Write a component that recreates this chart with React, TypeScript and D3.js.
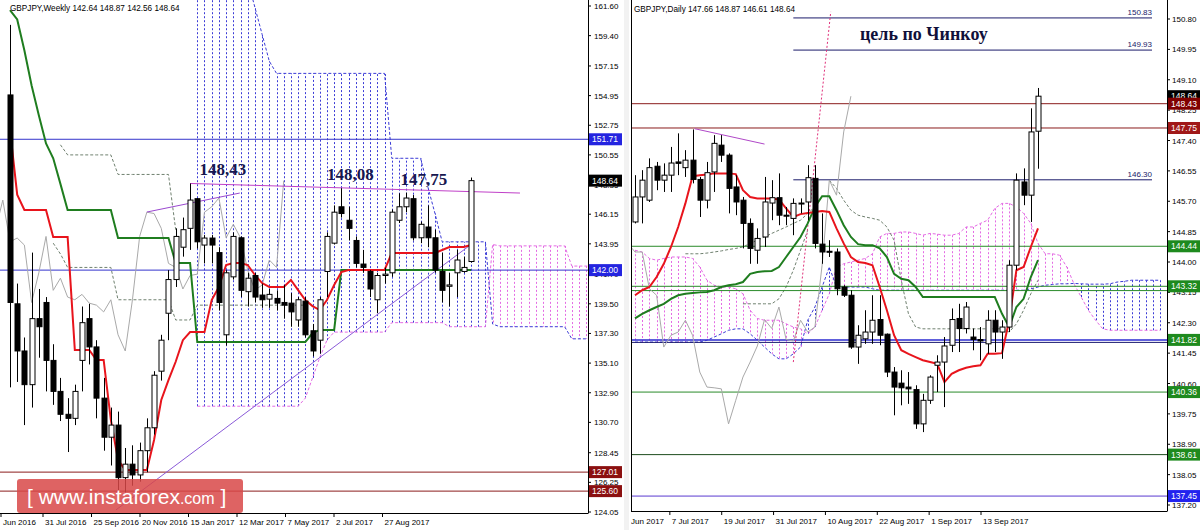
import * as d3 from "d3";
import React from "react";

const FONT = "'Liberation Sans', Arial, sans-serif";
const SERIF = "'Liberation Serif', 'Times New Roman', serif";

// ---------- weekly panel (bar 0 = week of 19 Jun 2016) ----------
const wOpen = [155.0,139.5,136.0,133.5,138.4,139.6,135.3,133.0,131.3,131.0,135.3,138.4,136.3,132.5,129.6,130.5,126.6,127.6,126.8,128.6,130.3,134.5,138.8,141.3,143.7,145.1,147.3,143.86,144.38,143.3,137.2,141.5,144.4,140.4,141.6,140.15,139.85,139.9,139.6,139.55,138.3,139.7,137.5,136.8,141.9,144.0,146.7,145.7,144.2,142.45,141.9,139.8,141.6,141.8,145.7,146.7,147.3,144.4,145.2,144.4,141.9,140.8,141.8,141.9,142.64];
const wHigh = [160.2,141.0,137.0,143.3,140.6,140.0,136.5,134.0,132.5,133.5,139.3,139.5,136.8,134.0,131.8,131.5,128.8,129.0,129.2,131.0,134.5,137.2,142.0,145.1,145.9,148.43,147.35,144.6,144.6,143.7,142.0,144.8,144.5,141.8,141.8,141.0,140.6,140.5,140.9,140.3,140.0,140.0,138.0,140.0,144.8,146.8,148.08,146.7,144.5,143.5,142.0,141.8,142.2,146.5,147.7,147.75,147.57,145.6,146.8,145.0,143.3,141.8,143.5,143.0,148.87];
const wLow = [133.3,133.7,130.5,131.8,135.5,133.0,132.0,130.8,128.5,130.5,133.0,135.0,131.0,128.6,127.5,124.8,125.5,126.0,126.3,127.0,129.8,133.8,136.8,140.75,143.0,143.5,143.6,142.5,142.5,139.0,136.4,141.3,140.0,139.3,139.6,139.2,139.2,139.0,138.4,137.8,137.8,137.0,135.6,135.8,140.0,143.9,145.9,144.2,142.2,141.8,140.0,138.8,141.0,141.5,145.5,146.3,144.2,144.0,143.7,141.8,139.6,139.3,140.0,141.8,142.56];
const wClose = [139.6,136.0,133.5,138.4,137.8,135.3,133.0,131.3,131.0,133.0,138.1,136.3,132.5,129.6,130.5,126.6,127.6,126.8,128.6,130.3,134.2,136.8,141.3,144.5,145.0,147.2,144.1,144.38,143.86,139.6,141.8,144.5,140.5,141.4,140.0,139.8,140.2,139.55,139.4,138.9,139.8,137.2,136.0,139.8,144.5,146.3,146.2,145.1,142.5,142.2,140.6,141.6,141.7,146.3,146.7,147.35,144.4,145.4,144.4,142.0,140.5,140.9,142.75,142.2,148.64];
const wTenkan = [152.4,147.6,146.46,146.46,146.46,146.46,144.46,144.46,144.46,136.07,136.07,136.07,135.33,135.33,130.88,127.91,127.17,127.17,127.17,127.17,129.39,132.36,133.84,135.2,136.8,137.4,137.4,137.4,139.78,140.75,142.38,142.53,142.53,142.38,141.64,141.04,140.75,140.75,140.75,141.27,140.52,139.78,139.33,139.04,139.78,140.89,141.86,142.01,142.01,142.01,142.01,142.01,142.01,143.27,143.27,143.27,143.27,143.27,143.27,143.27,143.49,143.71,143.71,143.71,143.86];
const wKijun = [161.3,160.6,158.3,155.7,153.5,151.4,150.3,148.4,146.46,146.46,146.46,146.46,146.46,146.46,146.46,144.38,144.38,144.38,144.38,144.38,144.38,144.38,144.38,142.53,142.53,142.53,136.66,136.66,136.66,136.66,136.66,136.66,136.66,136.66,136.66,136.66,136.66,136.66,136.66,136.66,136.66,136.66,137.33,137.56,137.56,137.56,142.0,142.0,142.0,142.0,142.0,142.0,142.0,142.0,142.0,142.0,142.0,142.0,142.0,142.0,142.0,142.0,142.0,142.0,142.0];
const wSpanStart = 26;
const wSpanA = [131.9,131.9,131.9,131.9,131.9,131.9,131.9,131.9,131.9,131.9,131.9,131.9,131.9,131.9,131.9,132.5,134.0,135.5,136.8,137.4,137.4,137.4,137.4,137.4,137.4,137.4,137.4,138.1,138.1,138.1,138.1,138.1,138.1,138.1,138.1,137.8,137.8,137.8,137.8,137.8,137.8,143.9,143.8,143.8,143.8,143.8,143.8,143.8,143.8,143.8,143.8,143.8,142.3,142.3,142.3,142.3];
const wSpanB = [163.5,163.5,163.5,163.5,163.5,163.5,163.5,163.5,161.5,159.5,157.5,156.6,156.6,156.6,156.6,156.6,156.6,156.6,156.6,156.6,156.6,156.6,156.6,156.6,156.6,156.6,156.6,150.3,150.3,150.3,150.3,150.3,148.2,146.2,144.1,144.1,144.1,144.1,144.1,144.1,144.1,138.0,137.8,137.8,137.8,137.8,137.8,137.8,137.8,137.8,137.8,137.8,136.9,136.9,136.9,136.9];
const wGuideAStart = 7;
const wGuideA = [151.3,150.55,150.55,150.55,150.55,150.55,150.55,150.55,149.1,149.1,149.1,149.1,149.1,149.1,149.1,149.1,145.0];
const wGuideBStart = 6;
const wGuideB = [144.0,143.2,142.2,142.2,142.2,142.2,142.2,142.2,142.2,139.8,139.8,139.8,139.8,139.8,139.8,139.8,139.8,138.3,138.3,138.3,139.4,139.4,139.4,139.4,139.4,139.4,139.4,139.4,139.4,139.4,139.4,139.4,139.4,139.4,139.4,139.4];
const wLevels = [151.71, 142.0, 127.01, 125.6];
const wTicks = [161.6,159.4,157.15,154.95,152.75,150.55,148.35,146.15,143.95,141.7,139.5,137.3,135.1,132.9,130.7,128.45,126.25,124.05];
const wDates = ["Jun 2016","31 Jul 2016","25 Sep 2016","20 Nov 2016","15 Jan 2017","12 Mar 2017","7 May 2017","2 Jul 2017","27 Aug 2017"];
// trend lines: [startIndex, startPrice, endIndex, endPrice]
const wResistance = [25, 148.43, 70.8, 147.72];
const wShortTrend = [19, 146.31, 31.9, 147.72];
const wSupport = [14.7, 124.2, 63.9, 143.86];
const wPeakLabels = ["148,43", "148,08", "147,75"];
const wPeakIdx = [26.3, 44.0, 54.2];
const wPeakVal = [148.43, 148.08, 147.75];

// ---------- daily panel (bar 0 = 28 Jun 2017) ----------
const dOpen = [145.12,145.82,145.73,146.68,146.29,146.43,146.80,146.64,146.85,146.31,145.73,146.52,147.27,146.99,146.10,145.73,145.08,144.33,144.70,145.65,145.80,145.31,145.22,145.64,145.68,146.34,144.50,144.30,144.28,143.30,143.07,141.62,141.85,142.04,142.39,141.98,140.92,140.61,140.50,140.43,139.47,140.13,141.11,141.20,141.67,142.42,142.14,141.90,141.83,141.71,142.37,142.04,142.18,143.91,146.24,145.87,147.66];
const dHigh = [146.43,146.57,146.90,146.80,146.76,147.22,147.60,147.13,147.71,146.38,146.80,147.55,147.55,147.04,146.43,145.82,145.22,144.94,146.38,146.29,146.48,145.54,145.78,145.78,146.71,146.71,145.36,144.61,144.38,143.35,143.21,142.23,142.65,143.07,143.07,142.00,141.06,140.97,140.92,140.55,140.31,140.83,141.39,141.90,142.70,142.83,142.88,142.14,142.18,142.65,142.65,142.37,144.05,146.48,146.62,148.30,148.87];
const dLow = [145.08,145.08,145.68,146.01,145.96,145.96,146.43,146.38,146.20,145.26,145.50,145.96,146.80,145.36,145.31,144.38,143.95,143.95,144.42,145.17,145.03,145.03,144.75,145.36,145.17,144.38,143.95,144.14,143.07,143.02,141.57,141.15,141.71,141.71,141.67,140.78,139.71,139.99,140.03,139.33,139.24,140.03,140.36,139.94,141.48,141.48,142.00,141.53,141.25,141.43,141.48,141.29,142.04,143.77,145.59,145.12,146.61];
const dClose = [145.82,146.29,146.64,146.29,146.43,146.77,146.76,146.85,146.31,145.73,146.50,147.32,146.99,146.06,145.68,145.08,144.38,144.66,145.68,145.80,145.31,145.29,145.64,145.65,146.36,144.52,144.28,144.28,143.25,143.07,141.62,141.95,142.04,142.37,141.95,140.92,140.50,140.48,140.45,139.47,140.13,140.78,141.20,141.65,142.39,142.14,142.74,141.83,141.79,142.37,142.04,142.18,143.91,146.29,145.87,147.64,148.64];
const dTenkan = [143.07,143.21,143.30,143.58,143.95,144.42,144.98,145.64,146.40,146.43,146.45,146.48,146.48,146.48,146.46,146.01,145.82,145.78,145.78,145.78,145.75,145.50,145.26,145.34,145.37,145.40,145.43,145.40,144.94,144.52,144.14,144.00,143.97,143.91,143.30,142.65,141.95,141.53,141.43,141.34,141.25,141.20,141.15,140.64,140.87,140.97,141.04,141.08,141.11,141.43,141.43,141.45,142.37,143.77,143.86,144.42,144.94];
const dKijun = [142.42,142.55,142.65,142.74,142.83,142.97,143.07,143.11,143.13,143.15,143.16,143.21,143.30,143.35,143.38,143.44,143.67,143.72,143.74,143.75,143.86,144.14,144.42,144.70,145.08,145.54,145.84,145.84,145.45,145.03,144.70,144.50,144.47,144.47,144.38,144.14,143.67,143.53,143.49,143.30,143.02,143.02,143.02,143.02,143.02,143.02,143.02,143.02,143.02,143.02,143.02,142.55,142.18,142.74,142.97,143.58,144.05];
const dSpanStart = 0;
const dSpanA = [144.33,144.28,144.10,144.05,144.10,144.14,144.14,144.14,144.10,143.86,143.49,143.35,143.30,143.30,143.25,143.11,142.65,142.42,142.37,142.37,142.37,142.27,142.18,142.13,141.99,142.18,142.65,143.11,143.86,143.95,144.00,144.05,144.10,144.23,144.70,144.80,144.80,144.84,144.84,144.80,144.75,144.80,144.78,144.75,144.75,144.80,144.98,144.98,145.08,145.17,145.50,145.64,145.64,145.54,145.36,145.08,144.52,144.23,144.23,144.19,143.86,143.39,143.02,142.65,142.37,142.13,142.09,142.09,142.09,142.09,142.09,142.09,142.09,142.09];
const dSpanB = [141.76,141.76,141.76,141.76,141.76,141.76,141.76,141.76,141.76,141.76,141.81,141.90,141.99,142.09,142.13,142.13,141.99,141.81,141.62,141.43,141.29,141.29,141.43,141.62,142.37,142.74,143.30,143.86,143.30,143.30,143.30,143.30,143.30,143.25,143.21,143.21,143.21,143.21,143.21,143.21,143.21,143.21,143.21,143.21,143.21,143.21,143.21,143.21,143.21,143.21,143.21,143.21,143.21,143.21,143.21,143.25,143.30,143.35,143.37,143.39,143.39,143.40,143.39,143.38,143.38,143.38,143.39,143.44,143.46,143.49,143.49,143.49,143.49,143.49];
const dGuideAStart = 7;
const dGuideA = [144.23,144.23,144.23,144.25,144.28,144.31,144.35,144.38,144.42,144.52,144.61,144.70,144.80,144.89,144.98,145.08,145.17,145.36,145.54];
const dGuideBStart = 15;
const dGuideB = [142.83,142.83,142.83,142.83,142.83,142.97,143.30,143.77,144.33,144.89];
const dGuideCStart = 27;
const dGuideC = [146.29,146.06,145.73,145.45,145.31,145.26,145.22,145.17,144.98,144.61,143.49,142.55,142.18,142.13,142.13,142.13,142.13,142.13,142.13,142.13,142.13,142.13,142.13,142.13,142.13,142.04,142.27,142.65,143.11,143.49];
const dLevels = [148.43, 147.75, 144.44, 143.32, 143.2, 141.82, 141.75, 140.36, 138.61, 137.45];
const dTargets = [150.83, 149.93, 146.3];
const dTargetStart = 22;
const dTicks = [150.8,149.95,149.1,148.25,147.4,146.55,145.7,144.85,144.0,143.15,142.3,141.45,140.6,139.75,138.9,138.05,137.2];
const dDates = ["27 Jun 2017","7 Jul 2017","19 Jul 2017","31 Jul 2017","10 Aug 2017","22 Aug 2017","1 Sep 2017","13 Sep 2017"];
const dTags = [148.64, 148.43, 147.75, 144.44, 143.32, 141.82, 140.36, 138.61, 137.45];
const dShortTrend = [8.3, 147.73, 18, 147.3];
const dSpike = [22.0, 141.2, 27.2, 151.0];

const BLUE = "#3b3bd6";
const PINK = "#e46be4";
const RED = "#e8141c";
const GREEN = "#1f7d1f";
const GUIDE = "#6f806f";

type Sc = d3.ScaleLinear<number, number>;

function path(x: Sc, y: Sc, vals: number[], start: number) {
  return d3.line<number>().x((_, k) => x(k + start)).y((v) => y(v))(vals) || "";
}

function Candles({ x, y, o, h, l, c, bw }: { x: Sc; y: Sc; o: number[]; h: number[]; l: number[]; c: number[]; bw: number }) {
  return (
    <g>
      {o.map((op, i) => {
        const cx = Math.round(x(i)) + 0.5;
        const up = c[i] >= op;
        const top = y(Math.max(op, c[i]));
        const bot = y(Math.min(op, c[i]));
        return (
          <g key={i}>
            <line x1={cx} x2={cx} y1={y(h[i])} y2={y(l[i])} stroke="#000" />
            <rect x={cx - bw / 2} y={top} width={bw} height={Math.max(1, bot - top)} fill={up ? "#fff" : "#000"} stroke="#000" />
          </g>
        );
      })}
    </g>
  );
}

function Cloud({ x, y, start, a, b }: { x: Sc; y: Sc; start: number; a: number[]; b: number[] }) {
  return (
    <g>
      {a.map((av, k) => {
        const cx = Math.round(x(k + start)) + 0.5;
        return <line key={k} x1={cx} x2={cx} y1={y(av)} y2={y(b[k])} stroke={av > b[k] ? PINK : BLUE} strokeDasharray="2,2" />;
      })}
      <path d={path(x, y, a, start)} fill="none" stroke={PINK} strokeDasharray="3,2" />
      <path d={path(x, y, b, start)} fill="none" stroke={BLUE} strokeDasharray="3,2" />
    </g>
  );
}

function Tag({ x, y, w, v, fill }: { x: number; y: number; w: number; v: number; fill: string }) {
  return (
    <g>
      <rect x={x} y={y - 6} width={w} height={12} fill={fill} />
      <text x={x + 3} y={y + 3} fill="#fff" fontSize={8.5} fontFamily={FONT}>{v.toFixed(2)}</text>
    </g>
  );
}

export default function App() {
  const xW = d3.scaleLinear().domain([0, 64]).range([10, 471]);
  const yW = d3.scaleLinear().domain([161.6, 124.05]).range([6, 512]);
  const xD = d3.scaleLinear().domain([0, 56]).range([635, 1038]);
  const yD = d3.scaleLinear().domain([150.8, 137.2]).range([19, 505]);
  const wDateX = d3.scalePoint<string>().domain(wDates).range([-5.5, 382.5]);
  const dDateX = d3.scalePoint<string>().domain(dDates).range([618, 981]);

  const wLevelColor = ["#3434cc", "#3434cc", "#8b1c1c", "#8b1c1c"];
  const dLevelColor = ["#8b1c1c", "#8b1c1c", "#2a8a2a", "#2a8a2a", "#2a8a2a", "#2b2bd0", "#1a1a70", "#2a8a2a", "#1d4d1d", "#5a3ad0"];
  const dTagColor = ["#000", "#800000", "#a01818", "#1e8a1e", "#1e8a1e", "#1e8a1e", "#1e8a1e", "#1e8a1e", "#2222ee"];

  const trend = (x: Sc, y: Sc, t: number[], color: string, dash?: string) => (
    <line x1={x(t[0])} y1={y(t[1])} x2={x(t[2])} y2={y(t[3])} stroke={color} strokeWidth={1} strokeDasharray={dash} />
  );

  return (
    <svg width={1200} height={530} style={{ position: "absolute", left: 0, top: 0, background: "#fff" }}>
      <defs>
        <clipPath id="clipW"><rect x={0} y={0} width={588} height={513} /></clipPath>
        <clipPath id="clipD"><rect x={631} y={0} width={536} height={511} /></clipPath>
        <clipPath id="clipDDates"><rect x={631} y={511} width={569} height={19} /></clipPath>
      </defs>
      <rect x={0} y={0} width={1200} height={530} fill="#fff" />

      {/* ---------- weekly panel ---------- */}
      <g clipPath="url(#clipW)">
        <Cloud x={xW} y={yW} start={wSpanStart} a={wSpanA} b={wSpanB} />
        <path d={path(xW, yW, wGuideA, wGuideAStart)} fill="none" stroke={GUIDE} strokeDasharray="3,2" />
        <path d={path(xW, yW, wGuideB, wGuideBStart)} fill="none" stroke={GUIDE} strokeDasharray="3,2" />
        {wLevels.map((v, k) => (
          <line key={k} x1={0} x2={588} y1={yW(v)} y2={yW(v)} stroke={wLevelColor[k]} />
        ))}
        <path d={path(xW, yW, wClose, -26)} fill="none" stroke="#a9a9a9" />
        {trend(xW, yW, wResistance, "#c040c8")}
        {trend(xW, yW, wShortTrend, "#9a48d0")}
        {trend(xW, yW, wSupport, "#8a5ad8")}
        <path d={path(xW, yW, wKijun, 0)} fill="none" stroke={GREEN} strokeWidth={2} />
        <path d={path(xW, yW, wTenkan, 0)} fill="none" stroke={RED} strokeWidth={2} />
        <Candles x={xW} y={yW} o={wOpen} h={wHigh} l={wLow} c={wClose} bw={5} />
        {wPeakLabels.map((t, k) => (
          <text key={t} x={xW(wPeakIdx[k])} y={yW(wPeakVal[k]) - 8} fontFamily={SERIF} fontWeight="bold" fontSize={17} fill="#17174f">{t}</text>
        ))}
        <text x={10} y={11} fontFamily={FONT} fontSize={8.2} fill="#000">GBPJPY,Weekly  142.64 148.87 142.56 148.64</text>
      </g>
      <line x1={588.5} x2={588.5} y1={0} y2={513} stroke="#000" />
      <line x1={0} x2={588.5} y1={513.5} y2={513.5} stroke="#000" />
      {wTicks.map((v) => (
        <g key={v}>
          <line x1={588} x2={591} y1={yW(v)} y2={yW(v)} stroke="#000" />
          <text x={594} y={yW(v) + 3} fontFamily={FONT} fontSize={8} fill="#000">{v.toFixed(2)}</text>
        </g>
      ))}
      <Tag x={589} y={yW(151.71)} w={33} v={151.71} fill="#2424e0" />
      <Tag x={589} y={yW(148.64)} w={33} v={148.64} fill="#000" />
      <Tag x={589} y={yW(142.0)} w={33} v={142.0} fill="#2424e0" />
      <Tag x={589} y={yW(127.01)} w={33} v={127.01} fill="#8b1010" />
      <Tag x={589} y={yW(125.6)} w={33} v={125.6} fill="#8b1010" />
      {wDates.map((t) => (
        <g key={t}>
          <line x1={Math.max(1, wDateX(t)!)} x2={Math.max(1, wDateX(t)!)} y1={513} y2={517} stroke="#000" />
          <text x={Math.max(3, wDateX(t)! + 2)} y={525} fontFamily={FONT} fontSize={8} fill="#000">{t}</text>
        </g>
      ))}

      {/* watermark */}
      <rect x={17} y={479} width={226} height={34} rx={3} fill="#d84848" opacity={0.85} />
      <text x={27} y={504} fill="#fff" fontFamily={FONT} fontSize={21}>
        [ www.instaforex<tspan fontSize={16}>.com</tspan> ]
      </text>

      {/* separator */}
      <rect x={624} y={0} width={5} height={530} fill="#f2f2f2" />

      {/* ---------- daily panel ---------- */}
      <g clipPath="url(#clipD)">
        <Cloud x={xD} y={yD} start={dSpanStart} a={dSpanA} b={dSpanB} />
        <path d={path(xD, yD, dGuideA, dGuideAStart)} fill="none" stroke={GUIDE} strokeDasharray="3,2" />
        <path d={path(xD, yD, dGuideB, dGuideBStart)} fill="none" stroke={GUIDE} strokeDasharray="3,2" />
        <path d={path(xD, yD, dGuideC, dGuideCStart)} fill="none" stroke={GUIDE} strokeDasharray="3,2" />
        {dLevels.map((v, k) => (
          <line key={k} x1={631} x2={1167} y1={yD(v)} y2={yD(v)} stroke={dLevelColor[k]} strokeWidth={v === 141.82 ? 1.5 : 1} />
        ))}
        {dTargets.map((v) => (
          <g key={v}>
            <line x1={xD(dTargetStart)} x2={1152} y1={yD(v)} y2={yD(v)} stroke="#1a1a6a" />
            <text x={1152} y={yD(v) - 3} textAnchor="end" fontFamily={FONT} fontSize={8} fill="#1a1a6a">{v.toFixed(2)}</text>
          </g>
        ))}
        <path d={path(xD, yD, dClose, -26)} fill="none" stroke="#a9a9a9" />
        {trend(xD, yD, dShortTrend, "#b048c8")}
        {trend(xD, yD, dSpike, "#e0307a", "2,2")}
        <path d={path(xD, yD, dKijun, 0)} fill="none" stroke={GREEN} strokeWidth={2} />
        <path d={path(xD, yD, dTenkan, 0)} fill="none" stroke={RED} strokeWidth={2} />
        <Candles x={xD} y={yD} o={dOpen} h={dHigh} l={dLow} c={dClose} bw={5} />
        <text x={634} y={12} fontFamily={FONT} fontSize={8.2} fill="#000">GBPJPY,Daily  147.66 148.87 146.61 148.64</text>
        <text x={860} y={40} fontFamily={SERIF} fontWeight="bold" fontSize={18} fill="#10103a">цель по Чинкоу</text>
      </g>
      <line x1={631.5} x2={631.5} y1={0} y2={511} stroke="#000" />
      <line x1={1167.5} x2={1167.5} y1={0} y2={511} stroke="#000" />
      <line x1={631} x2={1167.5} y1={511.5} y2={511.5} stroke="#000" />
      {dTicks.map((v) => (
        <g key={v}>
          <line x1={1167} x2={1170} y1={yD(v)} y2={yD(v)} stroke="#000" />
          <text x={1172} y={yD(v) + 3} fontFamily={FONT} fontSize={8} fill="#000">{v.toFixed(2)}</text>
        </g>
      ))}
      {dTags.map((v, k) => (
        <Tag key={v} x={1168} y={yD(v)} w={32} v={v} fill={dTagColor[k]} />
      ))}
      <g clipPath="url(#clipDDates)">
        {dDates.map((t) => (
          <g key={t}>
            <line x1={dDateX(t)!} x2={dDateX(t)!} y1={511} y2={515} stroke="#000" />
            <text x={dDateX(t)! + 2} y={524} fontFamily={FONT} fontSize={8} fill="#000">{t}</text>
          </g>
        ))}
      </g>
    </svg>
  );
}
